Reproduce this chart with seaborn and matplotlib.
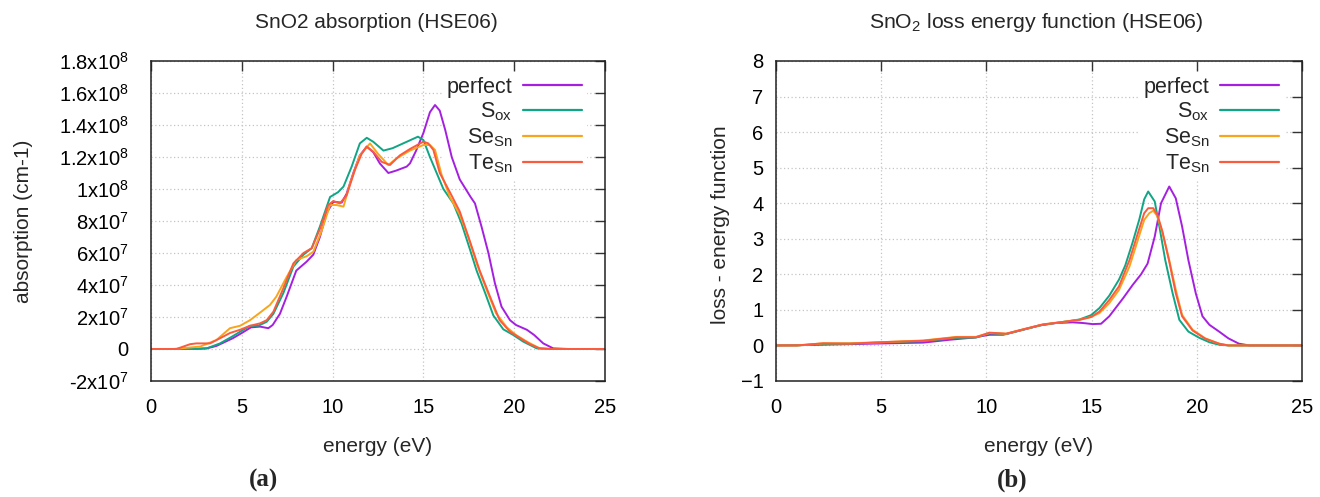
import numpy as np
import pandas as pd
import matplotlib
matplotlib.use("Agg")
import matplotlib.pyplot as plt
from matplotlib.lines import Line2D
from matplotlib.ticker import FuncFormatter
import seaborn as sns

# ---------------- data ----------------
series_names = ["perfect", "S_ox", "Se_Sn", "Te_Sn"]
legend_labels = ["perfect", "S$_{ox}$", "Se$_{Sn}$", "Te$_{Sn}$"]

# absorption (units of 1e7 cm-1)
abs_perfect_E = [0, 1.5, 2.1, 3.07, 3.6, 4.5, 5.0, 5.5, 6.0, 6.46, 6.7, 7.1, 7.47, 8.0, 8.57, 8.94, 9.3, 9.67, 10.04, 10.5,
                 10.77, 11.14, 11.5, 11.88, 12.24, 12.6, 13.07, 13.5, 14.08, 14.26, 14.6, 15.0, 15.36, 15.64, 15.9, 16.2,
                 16.56, 17.0, 17.6, 17.84, 18.2, 18.58, 18.94, 19.3, 19.77, 20.1, 20.7, 21.1, 21.6, 22.15, 23, 25]
abs_perfect_A = [0, 0, 0, 0.04, 0.19, 0.67, 1.0, 1.35, 1.4, 1.3, 1.5, 2.2, 3.27, 4.9, 5.46, 5.9, 7.0, 8.5, 9.2, 9.15,
                 9.7, 11.0, 12.1, 12.65, 12.3, 11.6, 11.0, 11.15, 11.4, 11.6, 12.4, 13.5, 14.8, 15.25, 14.9, 13.7,
                 12.0, 10.6, 9.5, 9.1, 7.65, 6.0, 4.1, 2.65, 1.8, 1.5, 1.2, 0.875, 0.35, 0.04, 0, 0]

abs_sox_E = [0, 1.5, 2.5, 3.07, 3.8, 4.5, 5.08, 5.45, 5.9, 6.37, 6.74, 7.29, 7.84, 8.4, 8.85, 9.3, 9.86, 10.3, 10.6, 11.05,
             11.5, 11.88, 12.24, 12.8, 13.3, 14.08, 14.7, 15.0, 15.36, 15.73, 16.1, 16.65, 17.1, 17.57, 17.93, 18.4,
             18.85, 19.4, 19.95, 20.5, 21.24, 22, 25]
abs_sox_A = [0, 0, 0, 0.04, 0.35, 0.8, 1.2, 1.45, 1.45, 1.7, 2.2, 3.5, 5.15, 5.9, 6.3, 7.65, 9.5, 9.8, 10.15, 11.4,
             12.85, 13.2, 12.95, 12.4, 12.55, 12.95, 13.27, 13.06, 12.0, 11.0, 10.0, 9.1, 7.85, 6.2, 4.9, 3.5,
             2.1, 1.23, 0.875, 0.46, 0.04, 0, 0]

abs_se_E = [0, 1.23, 2.7, 3.6, 4.35, 4.9, 5.45, 6.0, 6.55, 6.9, 7.47, 8.0, 8.57, 8.94, 9.4, 9.86, 10.2, 10.6, 10.96, 11.5,
            12.06, 12.5, 13.07, 13.5, 14.26, 15.0, 15.36, 15.64, 16.0, 16.46, 17.0, 17.47, 17.93, 18.48, 19.0, 19.6,
            20.1, 20.7, 21.4, 22, 25]
abs_se_A = [0, 0, 0.15, 0.56, 1.3, 1.45, 1.8, 2.27, 2.75, 3.27, 4.5, 5.56, 5.8, 6.08, 7.4, 9.0, 9.0, 8.9, 10.35, 12.1,
            12.85, 12.2, 11.5, 11.9, 12.4, 12.75, 12.75, 12.44, 10.9, 9.5, 8.4, 7.0, 5.35, 3.7, 2.23, 1.35,
            0.875, 0.46, 0.04, 0, 0]

abs_te_E = [0, 1.4, 2.15, 2.5, 3.25, 3.8, 4.35, 4.9, 5.45, 6.0, 6.37, 6.74, 7.29, 7.84, 8.4, 8.85, 9.3, 9.76, 10.04, 10.4,
            10.77, 11.23, 11.6, 11.88, 12.24, 12.7, 13.16, 13.7, 14.26, 15.0, 15.27, 15.55, 15.9, 16.46, 17.0, 17.57,
            18.1, 18.67, 19.2, 19.77, 20.3, 20.87, 21.4, 22, 25]
abs_te_A = [0, 0, 0.3, 0.35, 0.35, 0.67, 1.0, 1.2, 1.45, 1.6, 1.8, 2.33, 3.8, 5.35, 6.0, 6.3, 7.5, 9.0, 9.25, 9.1,
            9.6, 11.2, 12.2, 12.65, 12.33, 11.7, 11.5, 12.1, 12.5, 12.96, 12.85, 12.44, 11.0, 9.8, 8.6, 6.7,
            4.9, 3.27, 1.8, 1.08, 0.7, 0.3, 0.04, 0, 0]

# loss energy function
loss_perfect_E = [0, 2.2, 4.5, 7.0, 8.25, 9.36, 10.15, 10.8, 11.73, 12.5, 13.3, 14.1, 14.6, 15.05, 15.45, 15.84, 16.5,
                  16.95, 17.35, 17.66, 18.0, 18.3, 18.69, 19.0, 19.3, 19.6, 19.95, 20.27, 20.6, 21.06, 21.5, 22.0, 22.5, 25]
loss_perfect_L = [0, 0.02, 0.05, 0.08, 0.16, 0.22, 0.3, 0.3, 0.44, 0.56, 0.63, 0.65, 0.63, 0.6, 0.61, 0.82, 1.33,
                  1.7, 2.0, 2.3, 3.06, 4.0, 4.47, 4.14, 3.35, 2.4, 1.47, 0.82, 0.58, 0.39, 0.2, 0.05, 0, 0]

loss_sox_E = [0, 1.0, 2.25, 3.5, 5.4, 7.0, 8.57, 9.5, 10.15, 10.94, 11.73, 12.68, 13.63, 14.42, 14.97, 15.37, 15.84,
              16.3, 16.6, 16.95, 17.27, 17.5, 17.69, 18.0, 18.22, 18.5, 18.85, 19.17, 19.6, 20.1, 20.6, 21.06, 21.5, 25]
loss_sox_L = [0, 0, 0.04, 0.05, 0.09, 0.12, 0.21, 0.22, 0.34, 0.32, 0.44, 0.58, 0.66, 0.73, 0.85, 1.05, 1.4,
              1.85, 2.25, 2.9, 3.55, 4.11, 4.33, 4.05, 3.35, 2.4, 1.47, 0.72, 0.39, 0.22, 0.09, 0.02, 0, 0]

loss_se_E = [0, 1.0, 2.25, 3.5, 5.4, 7.0, 8.57, 9.5, 10.15, 10.94, 11.73, 12.68, 13.63, 14.42, 14.97, 15.37, 15.84,
             16.3, 16.8, 17.2, 17.5, 17.74, 17.93, 18.13, 18.37, 18.69, 19.0, 19.3, 19.8, 20.4, 21.06, 21.5, 25]
loss_se_L = [0, 0, 0.06, 0.06, 0.1, 0.14, 0.24, 0.24, 0.35, 0.33, 0.45, 0.59, 0.66, 0.72, 0.8, 0.91, 1.19,
             1.56, 2.22, 2.97, 3.53, 3.72, 3.79, 3.63, 3.16, 2.4, 1.57, 0.86, 0.44, 0.2, 0.05, 0, 0]

loss_te_E = [0, 1.0, 2.25, 3.5, 5.4, 7.0, 8.57, 9.5, 10.15, 10.94, 11.73, 12.68, 13.63, 14.42, 14.97, 15.37, 15.84,
             16.3, 16.8, 17.2, 17.5, 17.69, 17.93, 18.13, 18.37, 18.69, 19.0, 19.3, 19.8, 20.4, 21.06, 21.5, 25]
loss_te_L = [0, 0, 0.06, 0.05, 0.1, 0.13, 0.23, 0.23, 0.36, 0.33, 0.45, 0.59, 0.66, 0.72, 0.8, 0.95, 1.28,
             1.66, 2.4, 3.16, 3.72, 3.86, 3.86, 3.67, 3.2, 2.36, 1.47, 0.82, 0.42, 0.19, 0.05, 0, 0]

abs_yticks = [-2e7, 0, 2e7, 4e7, 6e7, 8e7, 1e8, 1.2e8, 1.4e8, 1.6e8, 1.8e8]
x_ticks = [0, 5, 10, 15, 20, 25]
loss_yticks = [-1, 0, 1, 2, 3, 4, 5, 6, 7, 8]

colors = {"perfect": "#a51fe0", "S_ox": "#10a585", "Se_Sn": "#f8a51c", "Te_Sn": "#fb5a3e"}

# ---------------- frames ----------------
def frame(pairs, scale=1.0):
    parts = []
    for name, (E, V) in zip(series_names, pairs):
        parts.append(pd.DataFrame({"energy": E, "value": np.array(V) * scale, "series": name}))
    return pd.concat(parts, ignore_index=True)

df_abs = frame([(abs_perfect_E, abs_perfect_A), (abs_sox_E, abs_sox_A),
                (abs_se_E, abs_se_A), (abs_te_E, abs_te_A)], scale=1e7)
df_loss = frame([(loss_perfect_E, loss_perfect_L), (loss_sox_E, loss_sox_L),
                 (loss_se_E, loss_se_L), (loss_te_E, loss_te_L)])

# ---------------- style ----------------
sns.set_theme(style="white")
plt.rcParams["font.family"] = ["Liberation Sans", "DejaVu Sans"]
plt.rcParams["mathtext.default"] = "regular"

W, H = 1320, 497
fig = plt.figure(figsize=(W / 100, H / 100), dpi=100)

def px_axes(x0, x1, y0, y1):
    return fig.add_axes([x0 / W, 1 - y1 / H, (x1 - x0) / W, (y1 - y0) / H])

ax1 = px_axes(151, 605, 61, 381)
ax2 = px_axes(776, 1302, 61, 381)

def abs_fmt(v, pos):
    if abs(v) < 1:
        return "0"
    exp = int(np.floor(np.log10(abs(v)) + 1e-9))
    mant = v / 10 ** exp
    return r"%gx10$^{%d}$" % (mant, exp)

TICK_FS = 14.5
LAB_FS = 15

for ax, df, yt, ylim in [(ax1, df_abs, abs_yticks, (-2e7, 1.8e8)), (ax2, df_loss, loss_yticks, (-1, 8))]:
    sns.lineplot(data=df, x="energy", y="value", hue="series", hue_order=series_names,
                 palette=colors, estimator=None, sort=False, lw=1.4, legend=False, ax=ax)
    ax.set_xlim(0, 25)
    ax.set_ylim(*ylim)
    ax.set_xticks(x_ticks)
    ax.set_yticks(yt)
    ax.set_xlabel("")
    ax.set_ylabel("")
    ax.grid(True, linestyle=(0, (1, 2)), color="#c4c4c4", linewidth=0.9)
    ax.set_axisbelow(True)
    for s in ax.spines.values():
        s.set_color("#222222")
        s.set_linewidth(1.1)
    ax.tick_params(direction="in", length=7, width=1.0, color="#333333", top=True, right=True,
                   labelsize=TICK_FS, labelcolor="black")
    ax.tick_params(axis="x", pad=12)
    handles = [Line2D([], [], color=colors[n], lw=1.6) for n in series_names]
    leg = ax.legend(handles, legend_labels, loc="upper right", bbox_to_anchor=(1, 1.022),
                    markerfirst=False, frameon=True,
                    facecolor="white", edgecolor="none", framealpha=1.0, fontsize=15.5,
                    handlelength=2.75, handletextpad=0.5, labelspacing=0.15, borderpad=0.2,
                    borderaxespad=0.85)
    leg.set_zorder(1.5)

ax1.yaxis.set_major_formatter(FuncFormatter(abs_fmt))
ax1.tick_params(axis="y", pad=16)
ax2.tick_params(axis="y", pad=9)

# titles and labels
fig.text(376 / W, 1 - 22 / H, "SnO2 absorption (HSE06)", ha="center", va="center", fontsize=15)
fig.text(1036 / W, 1 - 22 / H, "SnO$_2$ loss energy function (HSE06)", ha="center", va="center", fontsize=15.3)
fig.text(24 / W, 1 - 221 / H, "absorption (cm-1)", rotation=90, ha="center", va="center", fontsize=LAB_FS)
fig.text(720 / W, 1 - 225 / H, "loss - energy function", rotation=90, ha="center", va="center", fontsize=LAB_FS)
fig.text(378 / W, 1 - 446 / H, "energy (eV)", ha="center", va="center", fontsize=LAB_FS)
fig.text(1039 / W, 1 - 446 / H, "energy (eV)", ha="center", va="center", fontsize=LAB_FS)
fig.text(263 / W, 1 - 480 / H, "(a)", ha="center", va="center", fontsize=18, fontweight="bold",
         family=["Liberation Serif", "DejaVu Serif"])
fig.text(1012 / W, 1 - 480 / H, "(b)", ha="center", va="center", fontsize=18, fontweight="bold",
         family=["Liberation Serif", "DejaVu Serif"])

fig.savefig("out.png", dpi=100, facecolor="white")
